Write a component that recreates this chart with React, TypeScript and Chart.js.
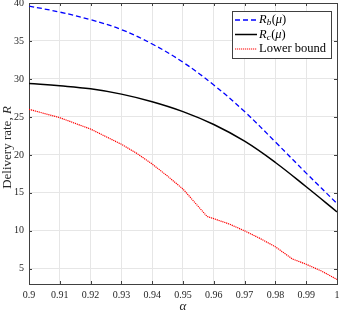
import React, { useEffect, useRef } from "react";
import { Chart, registerables } from "chart.js";

Chart.register(...registerables);

const alpha = [0.9, 0.91, 0.92, 0.93, 0.94, 0.95, 0.96, 0.97, 0.98, 0.99, 1.0];
const rbValues = [39.6, 38.8, 37.8, 36.5, 34.6, 32.2, 29.2, 25.7, 21.7, 17.6, 13.6];
const rcValues = [29.4, 29.1, 28.7, 28.0, 27.0, 25.7, 24.0, 21.8, 19.0, 15.8, 12.5];
const lowerAlpha = [0.9, 0.91, 0.92, 0.93, 0.935, 0.94, 0.945, 0.95, 0.9578, 0.96, 0.965, 0.97, 0.975, 0.98, 0.9855, 0.99, 0.995, 1.0];
const lowerValues = [26.0, 24.9, 23.4, 21.4, 20.2, 18.8, 17.2, 15.5, 11.9, 11.6, 10.9, 10.0, 9.0, 7.9, 6.3, 5.6, 4.7, 3.6];
const xTicks = [0.9, 0.91, 0.92, 0.93, 0.94, 0.95, 0.96, 0.97, 0.98, 0.99, 1];
const xTickLabels = ["0.9", "0.91", "0.92", "0.93", "0.94", "0.95", "0.96", "0.97", "0.98", "0.99", "1"];
const yTicks = [5, 10, 15, 20, 25, 30, 35, 40];
const seriesNames = ["Lower bound"];

const FONT = "'Liberation Serif', 'Times New Roman', serif";
const AXIS_COLOR = "#404040";
const TEXT_COLOR = "#262626";

const decorPlugin = {
  id: "decor",
  afterDraw(chart: any) {
    const { ctx, chartArea } = chart;
    const { left, right, top, bottom } = chartArea;
    const xs = chart.scales.x;
    const ys = chart.scales.y;
    ctx.save();
    // box
    ctx.strokeStyle = AXIS_COLOR;
    ctx.lineWidth = 1;
    ctx.beginPath();
    ctx.moveTo(left, top + 0.5);
    ctx.lineTo(right + 0.5, top + 0.5);
    ctx.lineTo(right + 0.5, bottom);
    ctx.stroke();
    // inward ticks
    const tl = 3;
    ctx.beginPath();
    for (const v of xTicks) {
      const px = Math.round(xs.getPixelForValue(v)) + 0.5;
      ctx.moveTo(px, bottom);
      ctx.lineTo(px, bottom - tl);
      ctx.moveTo(px, top);
      ctx.lineTo(px, top + tl);
    }
    for (const v of yTicks) {
      const py = Math.round(ys.getPixelForValue(v)) + 0.5;
      ctx.moveTo(left, py);
      ctx.lineTo(left + tl, py);
      ctx.moveTo(right, py);
      ctx.lineTo(right - tl, py);
    }
    ctx.stroke();

    // axis titles
    ctx.fillStyle = TEXT_COLOR;
    ctx.textBaseline = "middle";
    const tFont = `13px ${FONT}`;
    const tFontI = `italic 13px ${FONT}`;
    ctx.font = tFont;
    const part1 = "Delivery rate, ";
    const w1 = ctx.measureText(part1).width;
    ctx.font = tFontI;
    const w2 = ctx.measureText("R").width;
    const total = w1 + w2;
    ctx.save();
    ctx.translate(7.5, 147.5);
    ctx.rotate(-Math.PI / 2);
    ctx.textAlign = "left";
    ctx.font = tFont;
    ctx.fillText(part1, -total / 2, 0);
    ctx.font = tFontI;
    ctx.fillText("R", -total / 2 + w1, 0);
    ctx.restore();

    ctx.font = `italic 13px ${FONT}`;
    ctx.textAlign = "center";
    ctx.fillText("α", (left + right) / 2, 307);

    // legend
    const bx = 232.5, by = 11.5, bw = 99, bh = 47;
    ctx.fillStyle = "#ffffff";
    ctx.fillRect(bx, by, bw, bh);
    ctx.strokeStyle = AXIS_COLOR;
    ctx.lineWidth = 1;
    ctx.strokeRect(bx, by, bw, bh);
    const rows = [20, 34.5, 49];
    const lx0 = 235, lx1 = 257, tx = 259;
    const styles = [
      { color: "#0000ff", dash: [5, 3], width: 1.3 },
      { color: "#000000", dash: [], width: 1.5 },
      { color: "#ff0000", dash: [1.2, 0.8], width: 1.2 },
    ];
    styles.forEach((s, i) => {
      ctx.beginPath();
      ctx.setLineDash(s.dash);
      ctx.strokeStyle = s.color;
      ctx.lineWidth = s.width;
      ctx.moveTo(lx0, rows[i]);
      ctx.lineTo(lx1, rows[i]);
      ctx.stroke();
    });
    ctx.setLineDash([]);
    ctx.fillStyle = "#000000";
    ctx.textAlign = "left";
    ctx.textBaseline = "middle";
    const drawRmu = (sub: string, y: number) => {
      let x = tx;
      ctx.font = `italic 12.5px ${FONT}`;
      ctx.fillText("R", x, y);
      x += ctx.measureText("R").width;
      ctx.font = `italic 9px ${FONT}`;
      ctx.fillText(sub, x, y + 3);
      x += ctx.measureText(sub).width + 0.5;
      ctx.font = `12.5px ${FONT}`;
      ctx.fillText("(", x, y);
      x += ctx.measureText("(").width;
      ctx.font = `italic 12.5px ${FONT}`;
      ctx.fillText("μ", x, y);
      x += ctx.measureText("μ").width;
      ctx.font = `12.5px ${FONT}`;
      ctx.fillText(")", x, y);
    };
    drawRmu("b", rows[0]);
    drawRmu("c", rows[1]);
    ctx.font = `12.5px ${FONT}`;
    ctx.fillText(seriesNames[0], tx, rows[2]);
    ctx.restore();
  },
};

export default function App() {
  const ref = useRef<HTMLCanvasElement>(null);
  useEffect(() => {
    if (!ref.current) return;
    const chart = new Chart(ref.current, {
      type: "line",
      data: {
        datasets: [
          {
            label: "Rb",
            data: alpha.map((a, i) => ({ x: a, y: rbValues[i] })),
            borderColor: "#0000ff",
            borderWidth: 1.3,
            borderDash: [5, 3],
            pointRadius: 0,
            tension: 0.4,
          },
          {
            label: "Rc",
            data: alpha.map((a, i) => ({ x: a, y: rcValues[i] })),
            borderColor: "#000000",
            borderWidth: 1.5,
            pointRadius: 0,
            tension: 0.4,
          },
          {
            label: seriesNames[0],
            data: lowerAlpha.map((a, i) => ({ x: a, y: lowerValues[i] })),
            borderColor: "#ff0000",
            borderWidth: 1.2,
            borderDash: [1.2, 0.8],
            pointRadius: 0,
            tension: 0,
          },
        ],
      },
      options: {
        animation: false,
        responsive: false,
        layout: { padding: { left: 0, top: 3, right: 4, bottom: 0 } },
        plugins: { legend: { display: false }, tooltip: { enabled: false } },
        scales: {
          x: {
            type: "linear",
            min: 0.9,
            max: 1,
            afterBuildTicks: (axis: any) => {
              axis.ticks = xTicks.map((v) => ({ value: v }));
            },
            afterFit: (scale: any) => {
              scale.height = 29;
              scale.paddingLeft = 0;
              scale.paddingRight = 0;
            },
            ticks: {
              autoSkip: false,
              maxRotation: 0,
              padding: 5,
              color: TEXT_COLOR,
              font: { family: FONT, size: 10 },
              callback: (v: any) => {
                const idx = xTicks.findIndex((t) => Math.abs(t - v) < 1e-9);
                return idx >= 0 ? xTickLabels[idx] : "";
              },
            },
            grid: { color: "#e6e6e6", drawTicks: false },
            border: { display: true, color: AXIS_COLOR },
          },
          y: {
            type: "linear",
            min: 3,
            max: 40,
            afterBuildTicks: (axis: any) => {
              axis.ticks = yTicks.map((v) => ({ value: v }));
            },
            afterFit: (scale: any) => {
              scale.width = 29;
              scale.paddingTop = 0;
              scale.paddingBottom = 0;
            },
            ticks: {
              padding: 5,
              color: TEXT_COLOR,
              font: { family: FONT, size: 10 },
            },
            grid: { color: "#e6e6e6", drawTicks: false },
            border: { display: true, color: AXIS_COLOR },
          },
        },
      },
      plugins: [decorPlugin],
    } as any);
    return () => chart.destroy();
  }, []);
  return (
    <div style={{ position: "fixed", left: 0, top: 0, width: 341, height: 313, background: "#fff" }}>
      <canvas ref={ref} width={341} height={313} />
    </div>
  );
}
